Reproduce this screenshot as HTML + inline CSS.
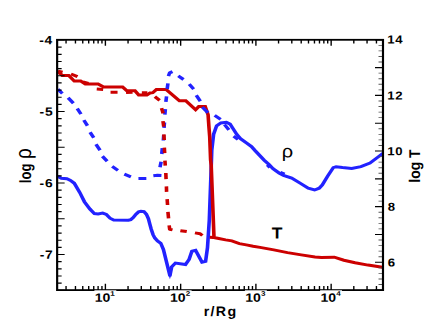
<!DOCTYPE html>
<html><head><meta charset="utf-8"><title>chart</title>
<style>html,body{margin:0;padding:0;background:#fff;}body{width:436px;height:327px;overflow:hidden;font-family:"Liberation Sans",sans-serif;}svg{display:block}</style>
</head><body>
<svg width="436" height="327" viewBox="0 0 436 327">
<rect width="436" height="327" fill="#fff"/>
<g transform="scale(1.2,1)">
<polyline points="48.17,176.4 51.17,178.2 55.75,178.8 58.75,180.5 61.92,183.3 66.50,192.5 70.33,201.7 74.92,209.0 78.67,213.6 81.75,214.0 85.58,213.1 88.67,214.5 91.67,218.2 94.75,220.0 107.00,220.2 109.00,219.6 111.00,217.6 113.33,214.2 115.50,211.9 117.50,211.2 120.00,211.6 122.00,214.3 123.67,218.6 124.83,224.0 126.00,229.2 127.50,234.5 129.00,238.0 131.25,241.0 134.00,243.3 136.17,249.4 141.46,275.0 141.71,275.0 143.08,266.8 146.17,263.1 154.58,264.6 157.58,259.4 159.92,251.2 163.00,250.3 168.33,262.2 171.33,261.3 172.92,247.5 174.42,220.0 176.08,165.0 176.50,150.0 178.00,134.4 180.50,125.9 184.08,122.9 188.67,122.3 191.75,124.1 194.75,129.6 197.33,134.4 200.42,138.7 205.33,142.9 209.58,146.6 212.50,150.5 220.17,160.2 224.17,164.6 227.50,168.6 232.50,173.0 236.25,175.3 243.08,178.1 250.75,183.6 256.83,188.2 262.17,190.0 266.00,188.2 268.58,185.0 273.17,175.9 277.75,167.6 280.08,166.7 285.42,167.6 293.08,168.5 300.75,166.7 308.33,163.0 314.50,157.5 319.08,153.5" fill="none" stroke="#2222ff" stroke-width="3.0" stroke-linejoin="miter" stroke-miterlimit="6"/>
<polygon points="140.00,273.0 143.25,273.0 141.58,279.2" fill="#2222ff"/>
<polyline points="48.00,71.2 51.92,75.6 57.33,75.6 61.92,81.1 67.25,81.1 71.08,83.9 81.75,83.9 86.33,87.0 102.17,87.0 105.50,90.6 112.50,90.8 115.58,94.9 122.42,94.9 125.00,93.0 127.33,92.7 130.33,89.4 138.42,89.4 149.50,100.7 154.83,100.7 163.00,109.8 165.67,106.5 171.00,106.4 173.42,114.8 174.17,128.0 174.75,136.7 175.50,160.0 176.00,165.0 178.33,237.5 182.33,238.5 188.00,239.9 193.17,240.9 199.50,243.6 205.25,244.9 210.92,246.3 216.67,247.4 228.17,249.9 239.58,252.6 251.08,254.9 262.50,257.0 267.83,257.5 278.58,257.2 286.58,260.2 295.92,262.7 306.67,265.1 318.67,267.3" fill="none" stroke="#cc0000" stroke-width="3.0" stroke-linejoin="miter" stroke-miterlimit="6"/>
<path d="M48.27,89.3 L51.98,93.5 M56.76,97.7 L61.16,103.2 M64.37,108.5 L67.46,114.1 M69.87,120.1 L72.88,125.8 M75.04,132.2 L78.13,137.7 M79.96,144.3 L83.37,150.3 M85.34,156.2 L89.32,161.2 M93.48,166.4 L98.27,170.3 M103.60,174.2 L109.07,176.9 M115.37,178.5 L121.96,178.4 M127.79,175.7 L131.25,175.2 L134.54,175.4 M133.33,167.2 L134.26,161.7 M134.79,154.0 L135.29,148.2 M136.11,140.5 L136.47,134.8 M136.70,127.9 L137.05,122.5 M137.37,114.7 L137.80,109.2 M138.21,101.9 L138.79,96.3 M139.30,89.0 L139.95,83.3 M140.37,76.1 L141.33,72.8 L143.74,71.6 M148.56,75.9 L152.94,79.5 M157.67,84.2 L161.41,89.1 M163.54,95.2 L166.96,101.2 M168.60,107.1 L173.32,112.7 M178.89,115.3 L183.86,119.3 M187.08,124.5 L190.76,129.8 M194.71,136.2 L198.29,139.5 M222.69,164.9 L224.90,167.5 M233.51,172.4 L237.15,174.2" fill="none" stroke="#2222ff" stroke-width="3.0" stroke-linejoin="round"/>
<path d="M48.36,71.1 L52.14,72.2 M59.18,74.0 L64.57,76.7 M69.11,81.8 L73.72,83.4 M80.62,89.0 L85.96,89.4 M92.12,92.3 L97.96,92.3 M105.04,92.5 L110.46,92.2 M118.21,92.7 L122.79,92.7 M129.05,96.7 L133.04,100.4 M134.61,108.2 L135.97,113.4 M135.80,121.1 L136.45,126.7 M136.53,134.4 L136.89,140.0 M136.94,147.7 L137.23,153.1 M137.44,160.6 L137.72,165.6 M138.18,173.0 L138.40,179.1 M138.68,186.4 L138.82,191.9 M139.28,199.2 L139.64,205.0 M139.95,211.9 L140.46,218.4 M140.97,225.4 L141.42,229.3 L143.75,229.9 M150.29,230.7 L155.63,231.6 M162.45,232.9 L166.83,233.8 L168.67,235.5 M174.87,237.2 L177.96,237.5" fill="none" stroke="#cc0000" stroke-width="3.0" stroke-linejoin="round"/>
<path d="M47.62,40.00h6.25 M47.62,47.15h3.75 M47.62,54.30h3.75 M47.62,61.45h3.75 M47.62,68.60h3.75 M47.62,75.75h6.25 M47.62,82.90h3.75 M47.62,90.05h3.75 M47.62,97.20h3.75 M47.62,104.35h3.75 M47.62,111.50h6.25 M47.62,118.65h3.75 M47.62,125.80h3.75 M47.62,132.95h3.75 M47.62,140.10h3.75 M47.62,147.25h6.25 M47.62,154.40h3.75 M47.62,161.55h3.75 M47.62,168.70h3.75 M47.62,175.85h3.75 M47.62,183.00h6.25 M47.62,190.15h3.75 M47.62,197.30h3.75 M47.62,204.45h3.75 M47.62,211.60h3.75 M47.62,218.75h6.25 M47.62,225.90h3.75 M47.62,233.05h3.75 M47.62,240.20h3.75 M47.62,247.35h3.75 M47.62,254.50h6.25 M47.62,261.65h3.75 M47.62,268.80h3.75 M47.62,275.95h3.75 M47.62,283.10h3.75 M47.62,290.25h6.25 M55.04,290.1v-4 M55.04,39.8v3.7 M62.88,290.1v-4 M62.88,39.8v3.7 M68.96,290.1v-4 M68.96,39.8v3.7 M73.92,290.1v-4 M73.92,39.8v3.7 M78.12,290.1v-4 M78.12,39.8v3.7 M81.76,290.1v-4 M81.76,39.8v3.7 M84.96,290.1v-4 M84.96,39.8v3.7 M87.83,290.1v-6.3 M87.83,39.8v6.0 M106.71,290.1v-4 M106.71,39.8v3.7 M117.75,290.1v-4 M117.75,39.8v3.7 M125.59,290.1v-4 M125.59,39.8v3.7 M131.66,290.1v-4 M131.66,39.8v3.7 M136.63,290.1v-4 M136.63,39.8v3.7 M140.83,290.1v-4 M140.83,39.8v3.7 M144.46,290.1v-4 M144.46,39.8v3.7 M147.67,290.1v-4 M147.67,39.8v3.7 M150.54,290.1v-6.3 M150.54,39.8v6.0 M169.42,290.1v-4 M169.42,39.8v3.7 M180.46,290.1v-4 M180.46,39.8v3.7 M188.30,290.1v-4 M188.30,39.8v3.7 M194.37,290.1v-4 M194.37,39.8v3.7 M199.34,290.1v-4 M199.34,39.8v3.7 M203.54,290.1v-4 M203.54,39.8v3.7 M207.17,290.1v-4 M207.17,39.8v3.7 M210.38,290.1v-4 M210.38,39.8v3.7 M213.25,290.1v-6.3 M213.25,39.8v6.0 M232.13,290.1v-4 M232.13,39.8v3.7 M243.17,290.1v-4 M243.17,39.8v3.7 M251.00,290.1v-4 M251.00,39.8v3.7 M257.08,290.1v-4 M257.08,39.8v3.7 M262.05,290.1v-4 M262.05,39.8v3.7 M266.24,290.1v-4 M266.24,39.8v3.7 M269.88,290.1v-4 M269.88,39.8v3.7 M273.09,290.1v-4 M273.09,39.8v3.7 M275.96,290.1v-6.3 M275.96,39.8v6.0 M294.84,290.1v-4 M294.84,39.8v3.7 M305.88,290.1v-4 M305.88,39.8v3.7 M313.71,290.1v-4 M313.71,39.8v3.7" stroke="#000" stroke-width="1.15" fill="none"/>
<path d="M319.17,39.80h-6.67 M319.17,67.61h-6.67 M319.17,95.42h-6.67 M319.17,123.23h-6.67 M319.17,151.04h-6.67 M319.17,178.86h-6.67 M319.17,206.67h-6.67 M319.17,234.48h-6.67 M319.17,262.29h-6.67 M319.17,290.10h-6.67" stroke="#000" stroke-width="1.15" fill="none"/>
<path d="M319.17,45.36h-3.75 M319.17,50.92h-3.75 M319.17,56.49h-3.75 M319.17,62.05h-3.75 M319.17,73.17h-3.75 M319.17,78.74h-3.75 M319.17,84.30h-3.75 M319.17,89.86h-3.75 M319.17,100.98h-3.75 M319.17,106.55h-3.75 M319.17,112.11h-3.75 M319.17,117.67h-3.75 M319.17,128.80h-3.75 M319.17,134.36h-3.75 M319.17,139.92h-3.75 M319.17,145.48h-3.75 M319.17,156.61h-3.75 M319.17,162.17h-3.75 M319.17,167.73h-3.75 M319.17,173.29h-3.75 M319.17,184.42h-3.75 M319.17,189.98h-3.75 M319.17,195.54h-3.75 M319.17,201.10h-3.75 M319.17,212.23h-3.75 M319.17,217.79h-3.75 M319.17,223.35h-3.75 M319.17,228.92h-3.75 M319.17,240.04h-3.75 M319.17,245.60h-3.75 M319.17,251.16h-3.75 M319.17,256.73h-3.75 M319.17,267.85h-3.75 M319.17,273.41h-3.75 M319.17,278.98h-3.75 M319.17,284.54h-3.75" stroke="#555" stroke-width="0.9" fill="none"/>
<rect x="47.62" y="39.8" width="271.54" height="250.3" fill="none" stroke="#000" stroke-width="1.8"/>
</g>
<text transform="translate(39.17,44.20) rotate(0.03) scale(1.160,1)" font-family="Liberation Sans, sans-serif" text-rendering="geometricPrecision" font-weight="bold" font-size="11.92" letter-spacing="0.7">-4</text>
<text transform="translate(39.48,115.70) rotate(0.03) scale(1.160,1)" font-family="Liberation Sans, sans-serif" text-rendering="geometricPrecision" font-weight="bold" font-size="11.92" letter-spacing="0.7">-5</text>
<text transform="translate(39.59,187.20) rotate(0.03) scale(1.160,1)" font-family="Liberation Sans, sans-serif" text-rendering="geometricPrecision" font-weight="bold" font-size="11.92" letter-spacing="0.7">-6</text>
<text transform="translate(39.70,258.70) rotate(0.03) scale(1.160,1)" font-family="Liberation Sans, sans-serif" text-rendering="geometricPrecision" font-weight="bold" font-size="11.92" letter-spacing="0.7">-7</text>
<text transform="translate(387.37,43.40) rotate(0.03) scale(1.130,1)" font-family="Liberation Sans, sans-serif" text-rendering="geometricPrecision" font-weight="bold" font-size="11.63" letter-spacing="0.45">14</text>
<text transform="translate(387.37,99.62) rotate(0.03) scale(1.130,1)" font-family="Liberation Sans, sans-serif" text-rendering="geometricPrecision" font-weight="bold" font-size="11.63" letter-spacing="0.45">12</text>
<text transform="translate(387.37,155.24) rotate(0.03) scale(1.130,1)" font-family="Liberation Sans, sans-serif" text-rendering="geometricPrecision" font-weight="bold" font-size="11.63" letter-spacing="0.45">10</text>
<text transform="translate(387.78,210.87) rotate(0.03) scale(1.130,1)" font-family="Liberation Sans, sans-serif" text-rendering="geometricPrecision" font-weight="bold" font-size="11.63" letter-spacing="0.45">8</text>
<text transform="translate(387.72,266.49) rotate(0.03) scale(1.130,1)" font-family="Liberation Sans, sans-serif" text-rendering="geometricPrecision" font-weight="bold" font-size="11.63" letter-spacing="0.45">6</text>
<rect x="94.4" y="290.3" width="21.9" height="12.5" fill="#fff"/>
<text transform="translate(94.71,301.70) rotate(0.03) scale(1.167,1)" font-family="Liberation Sans, sans-serif" text-rendering="geometricPrecision" font-weight="bold" font-size="12.06">10</text>
<text transform="translate(110.19,295.80) rotate(0.03) scale(1.200,1)" font-family="Liberation Sans, sans-serif" text-rendering="geometricPrecision" font-weight="bold" font-size="6.69">1</text>
<rect x="169.7" y="290.3" width="21.9" height="12.5" fill="#fff"/>
<text transform="translate(169.96,301.70) rotate(0.03) scale(1.167,1)" font-family="Liberation Sans, sans-serif" text-rendering="geometricPrecision" font-weight="bold" font-size="12.06">10</text>
<text transform="translate(185.67,295.80) rotate(0.03) scale(1.200,1)" font-family="Liberation Sans, sans-serif" text-rendering="geometricPrecision" font-weight="bold" font-size="6.69">2</text>
<rect x="244.9" y="290.3" width="21.9" height="12.5" fill="#fff"/>
<text transform="translate(245.21,301.70) rotate(0.03) scale(1.167,1)" font-family="Liberation Sans, sans-serif" text-rendering="geometricPrecision" font-weight="bold" font-size="12.06">10</text>
<text transform="translate(261.02,295.80) rotate(0.03) scale(1.200,1)" font-family="Liberation Sans, sans-serif" text-rendering="geometricPrecision" font-weight="bold" font-size="6.69">3</text>
<rect x="320.1" y="290.3" width="21.9" height="12.5" fill="#fff"/>
<text transform="translate(320.46,301.70) rotate(0.03) scale(1.167,1)" font-family="Liberation Sans, sans-serif" text-rendering="geometricPrecision" font-weight="bold" font-size="12.06">10</text>
<text transform="translate(336.33,295.80) rotate(0.03) scale(1.200,1)" font-family="Liberation Sans, sans-serif" text-rendering="geometricPrecision" font-weight="bold" font-size="6.69">4</text>
<text transform="translate(203.76,315.90) rotate(0.03) scale(1.040,1)" font-family="Liberation Sans, sans-serif" text-rendering="geometricPrecision" font-weight="bold" font-size="13.66" letter-spacing="1.25">r/Rg</text>
<text transform="translate(271.80,238.50) rotate(0.03) scale(1.104,1)" font-family="Liberation Sans, sans-serif" text-rendering="geometricPrecision" font-weight="bold" font-size="15.84">T</text>
<text transform="translate(281.81,157.26) rotate(0.03) scale(1.141,1)" font-family="Liberation Sans, sans-serif" text-rendering="geometricPrecision" font-weight="normal" font-size="17.56">ρ</text>
<text transform="translate(420.20,181.70) rotate(-90) scale(1,1.115)" x="-0.97" font-family="Liberation Sans, sans-serif" text-rendering="geometricPrecision" font-weight="bold" font-size="13.95">log T</text>
<text transform="translate(30.70,182.30) rotate(-90) scale(1,1.247)" x="-0.91" font-family="Liberation Sans, sans-serif" text-rendering="geometricPrecision" font-weight="bold" font-size="13.06">log</text>
<text transform="translate(31.46,157.90) rotate(-90) scale(1,1.181)" x="-1.22" font-family="Liberation Sans, sans-serif" text-rendering="geometricPrecision" font-weight="normal" font-size="18.95">ρ</text>
</svg>
</body></html>
